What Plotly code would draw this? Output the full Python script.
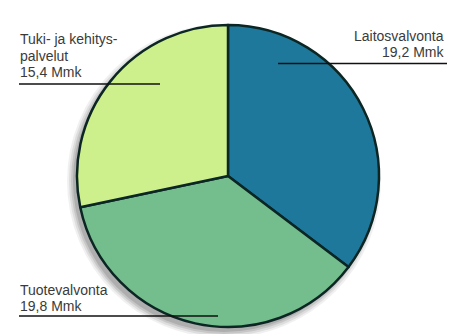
import plotly.graph_objects as go

labels = ["Laitosvalvonta", "Tuotevalvonta", "Tuki- ja kehityspalvelut"]
values = [19.2, 19.8, 15.4]
value_text = ["19,2 Mmk", "19,8 Mmk", "15,4 Mmk"]
colors = ["#1e789b", "#74bd8c", "#cdf08c"]

W, H = 462, 334

fig = go.Figure()
fig.add_trace(go.Pie(
    labels=labels, values=values, sort=False, direction="clockwise", rotation=0,
    marker=dict(colors=colors, line=dict(color="#0c2624", width=2.5)),
    textinfo="none", hoverinfo="skip", showlegend=False,
    domain=dict(x=[77 / W, 379 / W], y=[(H - 327) / H, (H - 25) / H]),
))

def px(x):
    return x / W

def py(y):
    return (H - y) / H

font = dict(family="Liberation Sans, Arial, sans-serif", size=14, color="#3a3a3a")
ann = []
ann.append(dict(text=labels[0], x=px(446), y=py(36.5), xanchor="right", yanchor="middle"))
ann.append(dict(text=value_text[0], x=px(446), y=py(51.5), xanchor="right", yanchor="middle"))
ann.append(dict(text="Tuki- ja kehitys-", x=px(18), y=py(39.5), xanchor="left", yanchor="middle"))
ann.append(dict(text="palvelut", x=px(18), y=py(55.5), xanchor="left", yanchor="middle"))
ann.append(dict(text=value_text[2], x=px(18), y=py(72), xanchor="left", yanchor="middle"))
ann.append(dict(text=labels[1], x=px(18), y=py(289.5), xanchor="left", yanchor="middle"))
ann.append(dict(text=value_text[1], x=px(18), y=py(305.5), xanchor="left", yanchor="middle"))
for a in ann:
    a.update(xref="paper", yref="paper", showarrow=False, font=font)

lines = [(278, 447, 63.5), (19, 160, 84), (19, 218, 316)]
shapes = []
# soft shadow behind the pie (lower-left)
cx, cy, r = 224, 181, 151
for grow, op in [(6, 0.06), (4, 0.08), (2, 0.1), (0, 0.12)]:
    shapes.append(dict(type="circle", xref="paper", yref="paper",
                       x0=px(cx - r - grow), x1=px(cx + r + grow),
                       y0=py(cy + r + grow), y1=py(cy - r - grow),
                       fillcolor=f"rgba(0,0,0,{op})", line=dict(width=0), layer="below"))
shapes += [dict(type="line", xref="paper", yref="paper", x0=px(a), x1=px(b), y0=py(y), y1=py(y),
                line=dict(color="#111111", width=1.5), layer="above") for a, b, y in lines]

fig.update_layout(width=W, height=H, margin=dict(l=0, r=0, t=0, b=0),
                  paper_bgcolor="white", plot_bgcolor="white",
                  annotations=ann, shapes=shapes)
fig.write_html("out.html")
